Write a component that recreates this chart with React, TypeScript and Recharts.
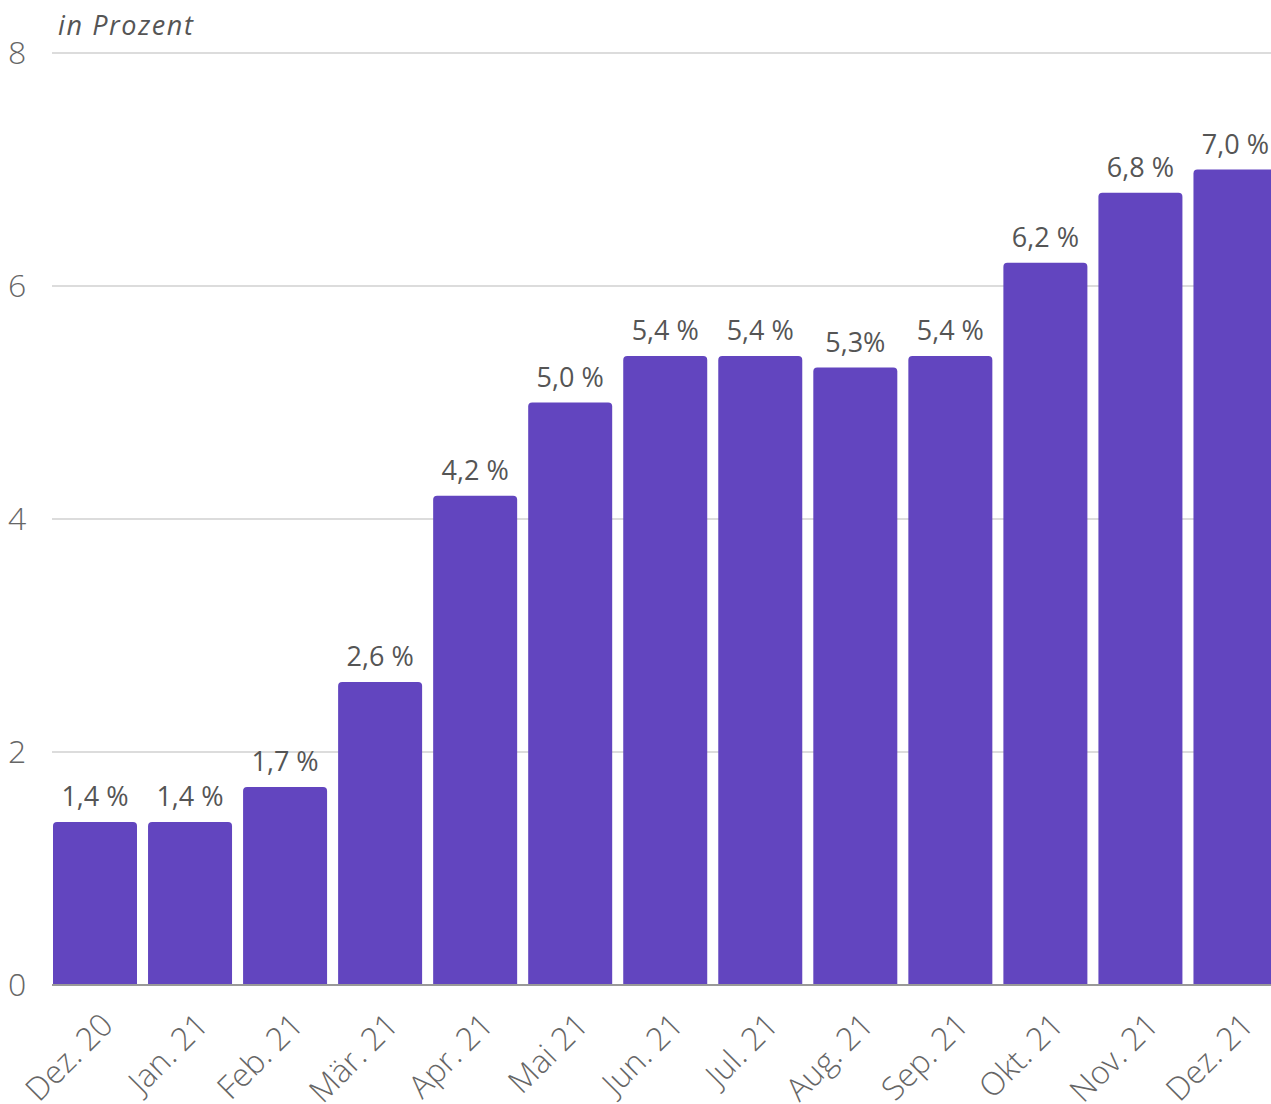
import { BarChart, Bar, XAxis, YAxis, CartesianGrid, LabelList } from 'recharts';

const months = ['Dez. 20', 'Jan. 21', 'Feb. 21', 'Mär. 21', 'Apr. 21', 'Mai 21', 'Jun. 21', 'Jul. 21', 'Aug. 21', 'Sep. 21', 'Okt. 21', 'Nov. 21', 'Dez. 21'];
const rates = [1.4, 1.4, 1.7, 2.6, 4.2, 5.0, 5.4, 5.4, 5.3, 5.4, 6.2, 6.8, 7.0];
const rateLabels = ['1,4 %', '1,4 %', '1,7 %', '2,6 %', '4,2 %', '5,0 %', '5,4 %', '5,4 %', '5,3%', '5,4 %', '6,2 %', '6,8 %', '7,0 %'];
const yTicks = [0, 2, 4, 6, 8];

const data = months.map((m, i) => ({ name: m, value: rates[i], label: rateLabels[i] }));

const FONT = '"Open Sans", sans-serif';

// rotated month labels
const MonthTick = (props: any) => {
  const { x, y, payload } = props;
  return (
    <g transform={`translate(${x + 20},${y + 34})`}>
      <text
        transform="rotate(-45)"
        textAnchor="end"
        fill="#666"
        fontSize={32}
        fontWeight={300}
        fontFamily={FONT}
      >
        {payload.value}
      </text>
    </g>
  );
};

const ValueTick = (props: any) => {
  const { y, payload } = props;
  return (
    <text x={8} y={y + 11} fill="#666" fontSize={32} fontWeight={300} fontFamily={FONT}>
      {payload.value}
    </text>
  );
};

export default function App() {
  return (
    <div style={{ position: 'absolute', left: 0, top: 0, width: 1271, height: 1104, overflow: 'hidden', background: '#fff' }}>
      <div
        style={{
          position: 'absolute',
          left: 58,
          top: 8,
          fontFamily: FONT,
          fontStyle: 'italic',
          fontSize: 27,
          letterSpacing: 1.6,
          color: '#555',
          lineHeight: '34px',
        }}
      >
        in Prozent
      </div>
      <BarChart
        width={1283}
        height={1104}
        data={data}
        margin={{ top: 53, right: 0, bottom: 0, left: 0 }}
        barCategoryGap={5.5}
      >
        <CartesianGrid vertical={false} stroke="#d0d0d0" strokeWidth={1.5} />
        <XAxis
          dataKey="name"
          interval={0}
          height={119}
          tickLine={false}
          axisLine={{ stroke: '#999', strokeWidth: 2 }}
          tick={<MonthTick />}
          padding={{ left: -4.5, right: 0 }}
        />
        <YAxis
          width={52}
          domain={[0, 8]}
          ticks={yTicks}
          axisLine={false}
          tickLine={false}
          tick={<ValueTick />}
        />
        <Bar dataKey="value" fill="#6245bf" radius={[4, 4, 0, 0]} isAnimationActive={false}>
          <LabelList
            dataKey="label"
            position="top"
            offset={16}
            fill="#555"
            fontSize={27}
            fontFamily={FONT}
          />
        </Bar>
      </BarChart>
    </div>
  );
}
